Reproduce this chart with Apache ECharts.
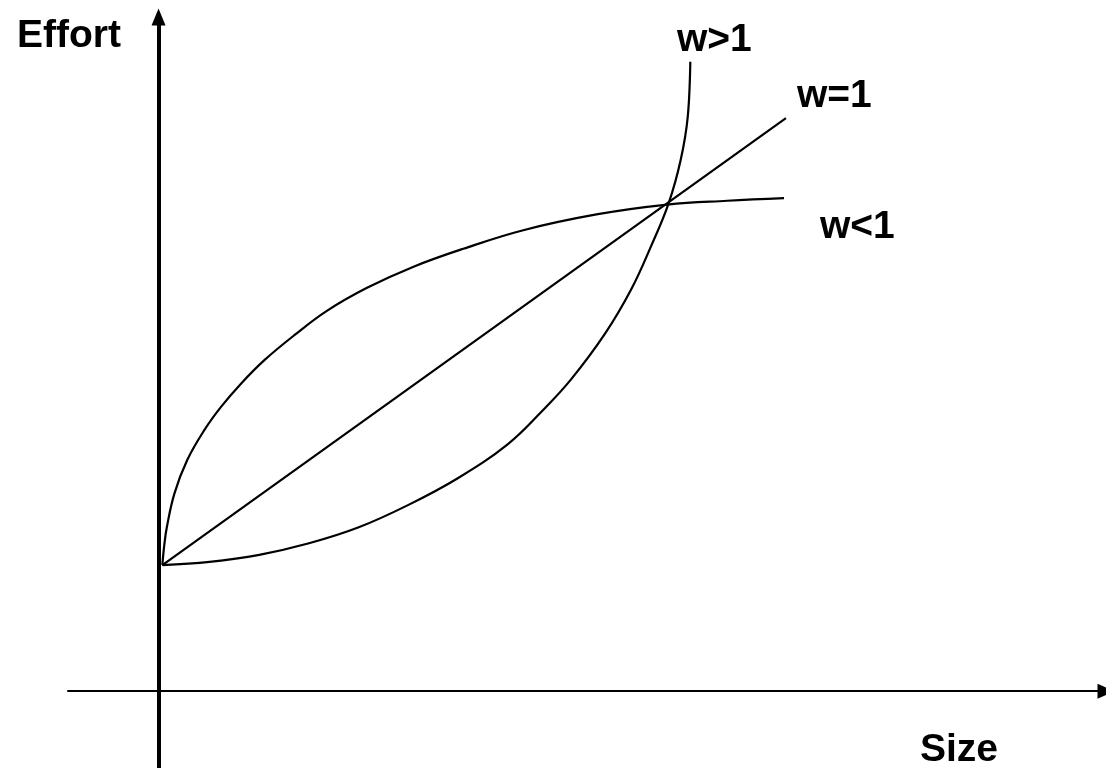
<!DOCTYPE html>
<html>
<head>
<meta charset="utf-8">
<script src="https://cdn.jsdelivr.net/npm/echarts@6/dist/echarts.min.js"></script>
<style>html,body{margin:0;padding:0;background:#fff}#c{width:1106px;height:768px}</style>
</head>
<body>
<div id="c"></div>
<script>
// Size (x) and Effort (y) in arbitrary units
const sizeRange = [-1.42, 14.86];
const effortRange = [-1.2, 10.53];

const curveWLess1 = [
  [0.06,1.97],[0.09,2.28],[0.13,2.56],[0.25,3.09],[0.45,3.61],[0.72,4.08],
  [0.98,4.44],[1.30,4.81],[1.66,5.17],[2.13,5.56],[2.64,5.94],[3.27,6.30],
  [4.00,6.63],[4.78,6.91],[5.72,7.20],[6.89,7.45],[7.98,7.60],[8.92,7.66],
  [9.81,7.70]
];
const curveWEq1 = [[0.06,1.97],[9.84,8.95]];
const curveWMore1 = [
  [0.06,1.97],[0.80,2.02],[1.58,2.13],[2.36,2.31],[3.14,2.56],[3.92,2.91],
  [4.70,3.33],[5.48,3.86],[6.02,4.38],[6.47,4.87],[7.00,5.58],
  [7.41,6.27],[7.72,6.94],[8.00,7.62],[8.19,8.30],[8.30,8.97],[8.34,9.83]
];
const labels = ['w>1','w=1','w<1'];
const axisNames = ['Size','Effort'];

const chart = echarts.init(document.getElementById('c'));
const font = {fontFamily:'Liberation Sans, Arial, sans-serif', fontWeight:'bold', fontSize:39, fill:'#000'};
function txt(t, x, y){ return {type:'text', left:x, top:y, style:Object.assign({text:t, textVerticalAlign:'top'}, font)}; }
const lineStyle = {color:'#000', width:2.2};
chart.setOption({
  animation:false,
  grid:{left:68, right:-4, top:17, bottom:0},
  xAxis:{type:'value', min:sizeRange[0], max:sizeRange[1],
    axisLine:{onZero:true, symbol:['none','triangle'], symbolSize:[15,17], lineStyle:{color:'#000', width:2}},
    axisTick:{show:false}, axisLabel:{show:false}, splitLine:{show:false}},
  yAxis:{type:'value', min:effortRange[0], max:effortRange[1],
    axisLine:{onZero:true, symbol:['none','triangle'], symbolSize:[14,17], lineStyle:{color:'#000', width:4}},
    axisTick:{show:false}, axisLabel:{show:false}, splitLine:{show:false}},
  graphic:[
    txt(axisNames[1], 17, 17),
    txt(axisNames[0], 920, 731),
    txt(labels[0], 677, 21),
    txt(labels[1], 797, 77),
    txt(labels[2], 820, 208)
  ],
  series:[
    {type:'line', data:curveWLess1, smooth:0.4, showSymbol:false, lineStyle:lineStyle},
    {type:'line', data:curveWEq1, showSymbol:false, lineStyle:lineStyle},
    {type:'line', data:curveWMore1, smooth:0.4, showSymbol:false, lineStyle:lineStyle}
  ]
});
</script>
</body>
</html>
